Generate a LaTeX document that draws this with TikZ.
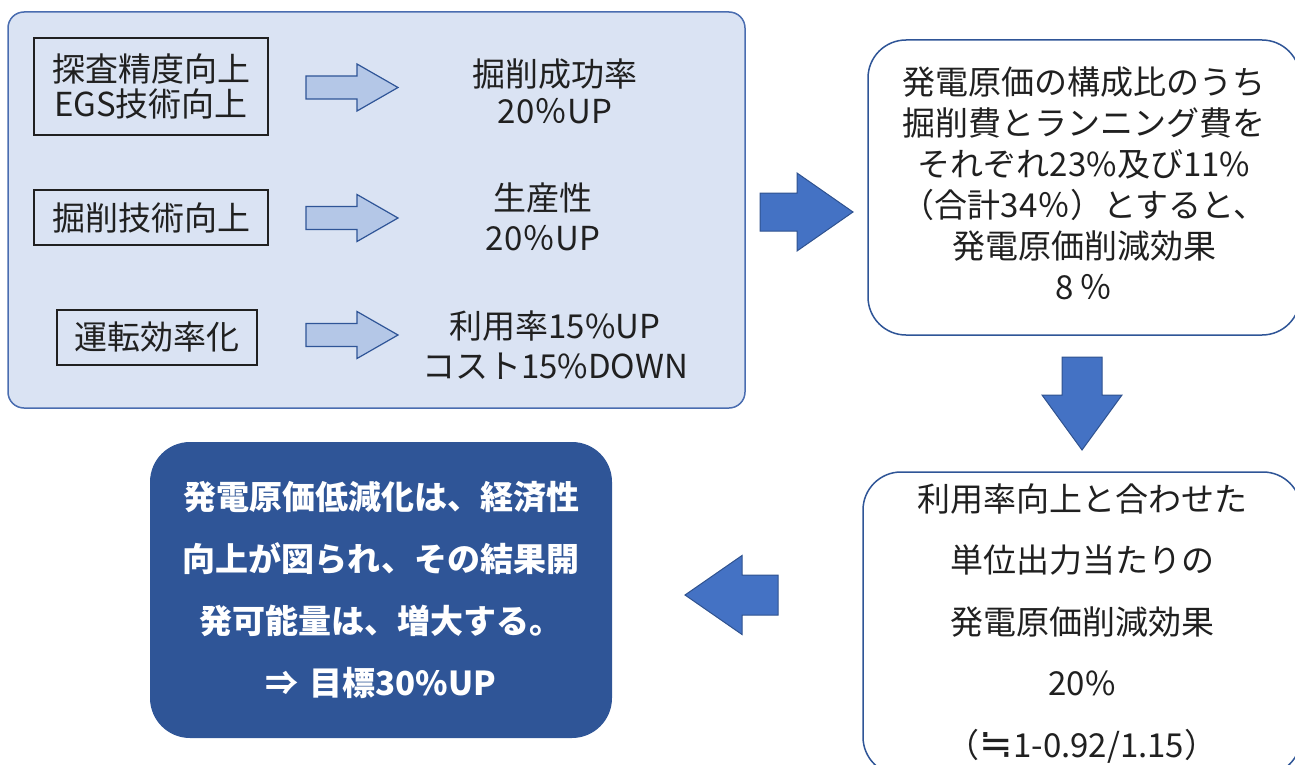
\documentclass[tikz,border=0pt]{standalone}
\usepackage{fontspec}
\setmainfont{Noto Sans CJK JP}
\newfontfamily\symfont{DejaVu Sans}
\definecolor{bgblue}{HTML}{DAE3F3}
\definecolor{edgeblue}{HTML}{2F5597}
\definecolor{frameblue}{HTML}{4A6DB0}
\definecolor{arrowblue}{HTML}{4472C4}
\definecolor{arrowedge}{HTML}{2F528F}
\definecolor{lightarrfill}{HTML}{B4C7E7}
\definecolor{darkbox}{HTML}{2F5597}
\definecolor{ink}{HTML}{202020}
\tikzset{
  panel/.style={draw=frameblue, line width=1.5pt, fill=bgblue, rounded corners=16pt},
  keybox/.style={draw=ink, line width=1.3pt, inner sep=0pt, align=center, text=ink},
  txt/.style={align=center, text=ink, inner sep=0pt},
  whitebox/.style={draw=edgeblue, line width=1.5pt, fill=white, rounded corners=38pt, inner sep=0pt, align=center, text=ink},
  goalbox/.style={fill=darkbox, rounded corners=40pt, inner sep=0pt, align=center, text=white, font=\bfseries\fontsize{33}{62}\selectfont},
  lightarr/.style={draw=edgeblue, line width=1.2pt, fill=lightarrfill},
  bigarr/.style={draw=arrowedge, line width=1pt, fill=arrowblue}
}
\begin{document}
\begin{tikzpicture}[x=1pt,y=-1pt]
\path[use as bounding box] (0,0) rectangle (1295,765);
\path[clip] (0,0) rectangle (1295,765);
% left panel
\node[panel, minimum width=737pt, minimum height=396pt, inner sep=0pt] (panel) at (376.5,210) {};
% key boxes
\node[keybox, minimum width=234pt, minimum height=97pt, font=\fontsize{33}{35}\selectfont] (k1) at (151,86.5) {探査精度向上\\EGS技術向上};
\node[keybox, minimum width=234pt, minimum height=55pt, font=\fontsize{33}{35}\selectfont] (k2) at (151,217.5) {掘削技術向上};
\node[keybox, minimum width=200pt, minimum height=55pt, font=\fontsize{33}{35}\selectfont] (k3) at (157,337.5) {運転効率化};
% results
\node[txt, font=\fontsize{33}{37}\selectfont] (r1) at (555,91) {掘削成功率\\20％UP};
\node[txt, font=\fontsize{33}{40}\selectfont] (r2) at (543,217) {生産性\\20％UP};
\node[txt, font=\fontsize{33}{40}\selectfont] (r3) at (555,345) {利用率15\%UP\\コスト15\%DOWN};
% light arrows
\draw[lightarr] (306,76) -- (357,76) -- (357,64) -- (398,87.5) -- (357,111) -- (357,99) -- (306,99) -- cycle;
\draw[lightarr] (306,206.5) -- (357,206.5) -- (357,194.5) -- (398,218) -- (357,241.5) -- (357,229.5) -- (306,229.5) -- cycle;
\draw[lightarr] (306,323.5) -- (357,323.5) -- (357,311.5) -- (398,335) -- (357,358.5) -- (357,346.5) -- (306,346.5) -- cycle;
% right box 1
\node[whitebox, minimum width=432pt, minimum height=295pt] (b1) at (1084,187.5) {};
\node[txt, font=\fontsize{33}{41}\selectfont] (b1t) at (1084,183) {発電原価の構成比のうち\\掘削費とランニング費を\\それぞれ23\%及び11\%\\（合計34％）とすると、\\発電原価削減効果\\8\,％};
% right box 2
\node[whitebox, minimum width=438pt, minimum height=303pt, font=\fontsize{33}{61.5}\selectfont, text width=420pt] (b2) at (1082,623.5) {利用率向上と合わせた\\単位出力当たりの\\発電原価削減効果\\20\%\\（{\symfont\fontsize{40}{40}\selectfont ≒}1-0.92/1.15）};
% goal box
\node[goalbox, minimum width=462pt, minimum height=296pt, text width=440pt] (goal) at (381,590) {発電原価低減化は、経済性\\向上が図られ、その結果開\\発可能量は、増大する。\\⇒ 目標30\%UP};
% big arrows
\draw[bigarr] (760,193) -- (797,193) -- (797,173) -- (853,212) -- (797,251) -- (797,231) -- (760,231) -- cycle;
\draw[bigarr] (1062,357) -- (1062,395) -- (1042,395) -- (1082,450) -- (1122,395) -- (1102,395) -- (1102,357) -- cycle;
\draw[bigarr] (778,575) -- (742,575) -- (742,555.5) -- (685,595) -- (742,634.5) -- (742,615) -- (778,615) -- cycle;
\end{tikzpicture}
\end{document}
